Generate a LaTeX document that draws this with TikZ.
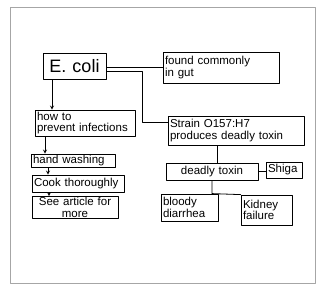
\documentclass[tikz,border=0pt]{standalone}
\usepackage{fontspec}
\setmainfont{Liberation Sans}
\begin{document}
\begin{tikzpicture}[x=1pt, y=-1pt, font=\fontsize{11.5}{11.5}\selectfont, line join=round, line cap=round, >=stealth,
  box/.style={draw, thick, inner xsep=2pt, inner ysep=1pt, align=left}]
	\useasboundingbox (0,0) rectangle (320,289);
	\draw[gray!70, thick] (10,7) rectangle (315,283);
	% boxes
	\node[box, text width=59, minimum height=26, font=\fontsize{18}{18}\selectfont, align=center] (ecoli) at (74.5,66) {E. coli};
	\node[box, text width=112, minimum height=31] (gut) at (221,67.5) {found commonly\\in gut};
	\node[box, text width=96, minimum height=26] (prevent) at (85,123) {how to\\prevent infections};
	\node[box, text width=132, minimum height=29] (strain) at (236,130.5) {Strain O157:H7\\produces deadly toxin};
	\node[box, text width=80, minimum height=13] (wash) at (73,160.5) {hand washing};
	\node[box, text width=88, minimum height=17] (cook) at (78,183.5) {Cook thoroughly};
	\node[box, text width=82, minimum height=21, align=center] (article) at (75,207.5) {See article for\\more};
	\node[box, text width=88, minimum height=17, align=center] (toxin) at (212,171.5) {deadly toxin};
	\node[box, text width=32, minimum height=16] (shiga) at (284,170) {Shiga};
	\node[box, text width=53, minimum height=27] (bloody) at (189.5,207.5) {bloody\\diarrhea};
	\node[box, text width=47, minimum height=30] (kidney) at (266.5,210) {Kidney\\failure};
	% connectors
	\draw[thick] ([yshift=-1pt]ecoli.east) -- ([yshift=-1pt]ecoli.east -| gut.west);
	\draw[thick] ([yshift=-5pt]ecoli.east) -| (142,122) -- (142,122 -| strain.west);
	\draw[thick, ->] ([xshift=-22.5pt]ecoli.south) -- ([xshift=-22.5pt]ecoli.south |- prevent.north);
	\draw[thick, ->] ([xshift=-40pt]prevent.south) -- ([xshift=-40pt]prevent.south |- wash.north);
	\draw[thick, ->] ([xshift=-25pt]wash.south) -- ([xshift=-25pt]wash.south |- cook.north);
	\draw[thick, ->] ([xshift=-29pt]cook.south) -- ([xshift=-29pt]cook.south |- article.north);
	\draw[thick] ([xshift=-19pt]strain.south) -- ([xshift=-19pt]strain.south |- toxin.north);
	\draw[thick] (toxin.east) -- (toxin.east -| shiga.west);
	\draw[thick] (toxin.south) -- (toxin.south |- bloody.north) -- (kidney.north west);
\end{tikzpicture}
\end{document}
